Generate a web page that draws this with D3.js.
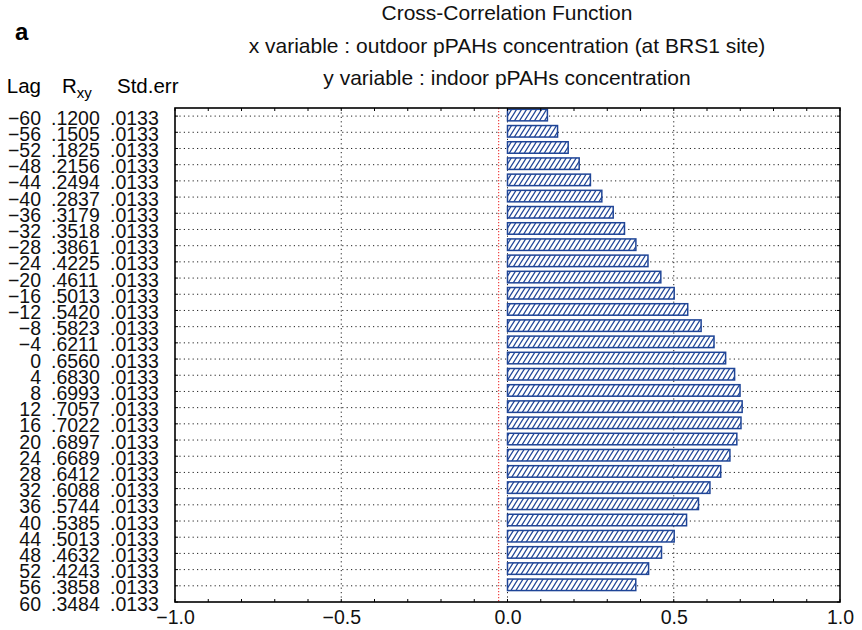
<!DOCTYPE html>
<html>
<head>
<meta charset="utf-8">
<script src="https://cdn.jsdelivr.net/npm/d3@7"></script>
<style>
  html, body { margin: 0; padding: 0; background: #fff; }
  svg { display: block; font-family: "Liberation Sans", Arial, Helvetica, sans-serif; }
</style>
</head>
<body>
<svg id="chart" width="862" height="630"></svg>
<script>
// ---- data ----
const lags = [-60,-56,-52,-48,-44,-40,-36,-32,-28,-24,-20,-16,-12,-8,-4,0,4,8,12,16,20,24,28,32,36,40,44,48,52,56,60];
const rxy = [.1200,.1505,.1825,.2156,.2494,.2837,.3179,.3518,.3861,.4225,.4611,.5013,.5420,.5823,.6211,.6560,.6830,.6993,.7057,.7022,.6897,.6689,.6412,.6088,.5744,.5385,.5013,.4632,.4243,.3858,.3484];
const stdErr = [.0133,.0133,.0133,.0133,.0133,.0133,.0133,.0133,.0133,.0133,.0133,.0133,.0133,.0133,.0133,.0133,.0133,.0133,.0133,.0133,.0133,.0133,.0133,.0133,.0133,.0133,.0133,.0133,.0133,.0133,.0133];
const xTicks = [-1.0, -0.5, 0.0, 0.5, 1.0];
const titleLines = [
  "Cross-Correlation Function",
  "x variable : outdoor pPAHs concentration (at BRS1 site)",
  "y variable : indoor pPAHs concentration"
];

// ---- layout ----
const L = 175, R = 840, T = 108, B = 602;
const svg = d3.select("#chart");
const x = d3.scaleLinear().domain([-1, 1]).range([L, R]);
const y = d3.scaleLinear().domain([-62, 60]).range([T, B]);
const blue = "#1f4597";
const rowStep = y(4) - y(0);
const barH = rowStep * 0.71;

// hatch pattern
const defs = svg.append("defs");
const pat = defs.append("pattern").attr("id", "hatch").attr("patternUnits", "userSpaceOnUse")
  .attr("width", 5).attr("height", 8);
pat.append("rect").attr("width", 5).attr("height", 8).attr("fill", "#fff");
pat.append("path").attr("d", "M-1.25,10 L6.25,-2 M-6.25,10 L1.25,-2 M3.75,10 L11.25,-2")
  .attr("stroke", blue).attr("stroke-width", 1.2).attr("fill", "none");

const fmtLag = d => d3.format("d")(d);
const fmtVal = d => d3.format(".4f")(d).replace(/^0/, "");

// ---- titles ----
svg.append("text").attr("x", 15).attr("y", 40).attr("font-size", 24).attr("font-weight", "bold").text("a");
svg.selectAll("text.title").data(titleLines).join("text").attr("class", "title")
  .attr("x", 507).attr("y", (d, i) => 20 + i * 32.5)
  .attr("text-anchor", "middle").attr("font-size", 21).attr("fill", "#111").text(d => d);

// ---- table header ----
svg.append("text").attr("x", 41).attr("y", 93).attr("text-anchor", "end").attr("font-size", 20.5).text("Lag");
const rt = svg.append("text").attr("x", 62).attr("y", 93).attr("font-size", 20.5);
rt.append("tspan").text("R");
rt.append("tspan").attr("dy", 5).attr("font-size", 15).text("xy");
svg.append("text").attr("x", 117).attr("y", 93).attr("font-size", 20.5).text("Std.err");

// ---- table rows ----
const rows = svg.append("g").attr("font-size", 19.5).attr("fill", "#111");
rows.selectAll("text.lag").data(lags).join("text").attr("class", "lag")
  .attr("x", 41).attr("y", d => y(d) + 8.5).attr("text-anchor", "end").text(fmtLag);
rows.selectAll("text.val").data(rxy).join("text").attr("class", "val")
  .attr("x", 51).attr("y", (d, i) => y(lags[i]) + 8.5).text(fmtVal);
rows.selectAll("text.se").data(stdErr).join("text").attr("class", "se")
  .attr("x", 110).attr("y", (d, i) => y(lags[i]) + 8.5).text(fmtVal);

// ---- grid ----
const grid = svg.append("g").attr("stroke", "#222").attr("stroke-width", 1).attr("stroke-dasharray", "1.2,3.2");
grid.selectAll("line.h").data(lags.filter(d => y(d) < B - 1)).join("line").attr("class", "h")
  .attr("x1", L).attr("x2", R).attr("y1", d => y(d)).attr("y2", d => y(d));
grid.selectAll("line.v").data(xTicks.filter(d => d > -1 && d < 1)).join("line").attr("class", "v")
  .attr("x1", d => x(d)).attr("x2", d => x(d)).attr("y1", T).attr("y2", B);

// confidence limit
svg.append("line").attr("x1", x(-2 * stdErr[0])).attr("x2", x(-2 * stdErr[0]))
  .attr("y1", T).attr("y2", B).attr("stroke", "#ee3333").attr("stroke-width", 1.1)
  .attr("stroke-dasharray", "1.2,1.8");

// ---- bars ----
const barData = lags.map((l, i) => ({lag: l, v: rxy[i]})).filter(d => y(d.lag) + barH / 2 < B);
svg.append("g").selectAll("rect").data(barData).join("rect")
  .attr("x", x(0)).attr("y", d => y(d.lag) - barH / 2 - 1)
  .attr("width", d => x(d.v) - x(0)).attr("height", barH)
  .attr("fill", "url(#hatch)").attr("stroke", blue).attr("stroke-width", 1.5);

// ---- axes / frame ----
const minor = d3.range(-10, 11).map(k => k / 10);
const ax = svg.append("g").attr("stroke", "#000");
ax.selectAll("line.bt").data(minor).join("line").attr("class", "bt")
  .attr("x1", d => x(d)).attr("x2", d => x(d)).attr("y1", B).attr("y2", B - 3).attr("stroke-width", 1);
ax.selectAll("line.tt").data(minor).join("line").attr("class", "tt")
  .attr("x1", d => x(d)).attr("x2", d => x(d)).attr("y1", T).attr("y2", T + 3).attr("stroke-width", 1);
ax.selectAll("line.lt").data(lags).join("line").attr("class", "lt")
  .attr("x1", L).attr("x2", L + 3).attr("y1", d => y(d)).attr("y2", d => y(d)).attr("stroke-width", 1);
ax.selectAll("line.rt").data(lags).join("line").attr("class", "rt")
  .attr("x1", R).attr("x2", R - 3).attr("y1", d => y(d)).attr("y2", d => y(d)).attr("stroke-width", 1);
svg.append("rect").attr("x", L).attr("y", T).attr("width", R - L).attr("height", B - T)
  .attr("fill", "none").attr("stroke", "#000").attr("stroke-width", 1.6);

const xAxis = d3.axisBottom(x).tickValues(xTicks).tickFormat(d3.format(".1f")).tickSize(0).tickPadding(7);
const gx = svg.append("g").attr("transform", `translate(0,${B})`).call(xAxis);
gx.select(".domain").remove();
gx.selectAll("text").attr("font-size", 19.5).attr("fill", "#111")
  .attr("font-family", "Liberation Sans, Arial, sans-serif").attr("dy", "0.76em");
</script>
</body>
</html>
